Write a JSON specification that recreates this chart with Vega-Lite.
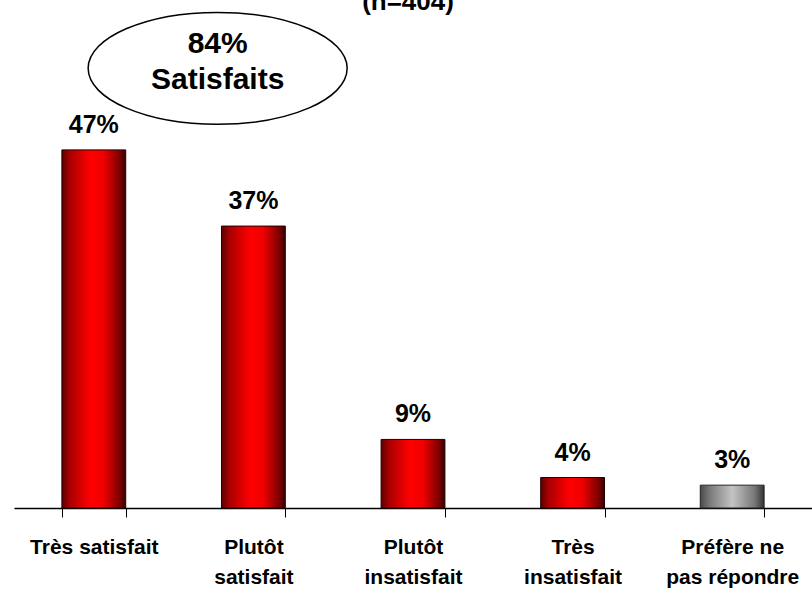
{
  "$schema": "https://vega.github.io/schema/vega-lite/v6.json",
  "width": 798,
  "height": 508,
  "autosize": {"type": "none"},
  "padding": {"left": 14, "top": 0, "right": 0, "bottom": 83},
  "background": "white",
  "config": {"view": {"stroke": null}},
  "title": {
    "text": "(n=404)",
    "font": "Liberation Sans",
    "fontSize": 26,
    "fontWeight": "bold",
    "color": "black",
    "anchor": "middle",
    "frame": "group",
    "offset": -15,
    "dx": -5
  },
  "data": {
    "values": [
      {"categorie": "Très satisfait", "pct": 0.47},
      {"categorie": "Plutôt satisfait", "pct": 0.37},
      {"categorie": "Plutôt insatisfait", "pct": 0.09},
      {"categorie": "Très insatisfait", "pct": 0.04},
      {"categorie": "Préfère ne pas répondre", "pct": 0.03}
    ]
  },
  "encoding": {
    "x": {
      "field": "categorie",
      "type": "nominal",
      "sort": null,
      "scale": {"paddingInner": 0.6, "paddingOuter": 0.3},
      "axis": {
        "title": null,
        "labelAngle": 0,
        "tickBand": "extent",
        "domainColor": "black",
        "domainWidth": 1.5,
        "tickColor": "black",
        "tickWidth": 1,
        "tickSize": 9,
        "labelFont": "Liberation Sans",
        "labelFontWeight": "bold",
        "labelFontSize": 21,
        "labelColor": "black",
        "labelPadding": 19,
        "labelLineHeight": 30,
        "labelOverlap": false,
        "labelBound": false,
        "labelExpr": "datum.value == 'Plutôt satisfait' ? ['Plutôt', 'satisfait'] : datum.value == 'Plutôt insatisfait' ? ['Plutôt', 'insatisfait'] : datum.value == 'Très insatisfait' ? ['Très', 'insatisfait'] : datum.value == 'Préfère ne pas répondre' ? ['Préfère ne', 'pas répondre'] : datum.label"
      }
    },
    "y": {
      "field": "pct",
      "type": "quantitative",
      "scale": {"domain": [0, 0.6667], "nice": false},
      "axis": null
    }
  },
  "layer": [
    {
      "transform": [{"filter": "datum.categorie != 'Préfère ne pas répondre'"}],
      "mark": {
        "type": "bar",
        "stroke": "#200000",
        "strokeWidth": 1,
        "fill": {
          "gradient": "linear",
          "x1": 0, "y1": 0, "x2": 1, "y2": 0,
          "stops": [
            {"offset": 0, "color": "#5c0000"},
            {"offset": 0.12, "color": "#a80000"},
            {"offset": 0.45, "color": "#ff0000"},
            {"offset": 0.65, "color": "#f00000"},
            {"offset": 0.9, "color": "#800000"},
            {"offset": 1, "color": "#3a0000"}
          ]
        }
      }
    },
    {
      "transform": [{"filter": "datum.categorie == 'Préfère ne pas répondre'"}],
      "mark": {
        "type": "bar",
        "stroke": "#222222",
        "strokeWidth": 1,
        "fill": {
          "gradient": "linear",
          "x1": 0, "y1": 0, "x2": 1, "y2": 0,
          "stops": [
            {"offset": 0, "color": "#4a4a4a"},
            {"offset": 0.15, "color": "#7a7a7a"},
            {"offset": 0.5, "color": "#c4c4c4"},
            {"offset": 0.85, "color": "#777777"},
            {"offset": 1, "color": "#333333"}
          ]
        }
      }
    },
    {
      "mark": {
        "type": "text",
        "baseline": "alphabetic",
        "dy": -17,
        "font": "Liberation Sans",
        "fontWeight": "bold",
        "fontSize": 25,
        "color": "black"
      },
      "encoding": {"text": {"field": "pct", "format": ".0%"}}
    },
    {
      "transform": [{"filter": "datum.categorie == 'Très satisfait'"}],
      "mark": {
        "type": "point",
        "shape": "M-1,0A1,0.432,0,1,0,1,0A1,0.432,0,1,0,-1,0Z",
        "size": 67081,
        "filled": false,
        "stroke": "black",
        "strokeWidth": 1.5,
        "opacity": 1
      },
      "encoding": {
        "x": {"field": "categorie", "type": "nominal", "sort": null, "bandPosition": 2.44},
        "y": {"datum": 0.577, "type": "quantitative"}
      }
    },
    {
      "transform": [{"filter": "datum.categorie == 'Très satisfait'"}],
      "mark": {
        "type": "text",
        "lineBreak": "\n",
        "lineHeight": 36,
        "align": "center",
        "baseline": "middle",
        "font": "Liberation Sans",
        "fontWeight": "bold",
        "fontSize": 30,
        "color": "black"
      },
      "encoding": {
        "x": {"field": "categorie", "type": "nominal", "sort": null, "bandPosition": 2.44},
        "y": {"datum": 0.609, "type": "quantitative"},
        "text": {"value": "84%\nSatisfaits"}
      }
    }
  ]
}
